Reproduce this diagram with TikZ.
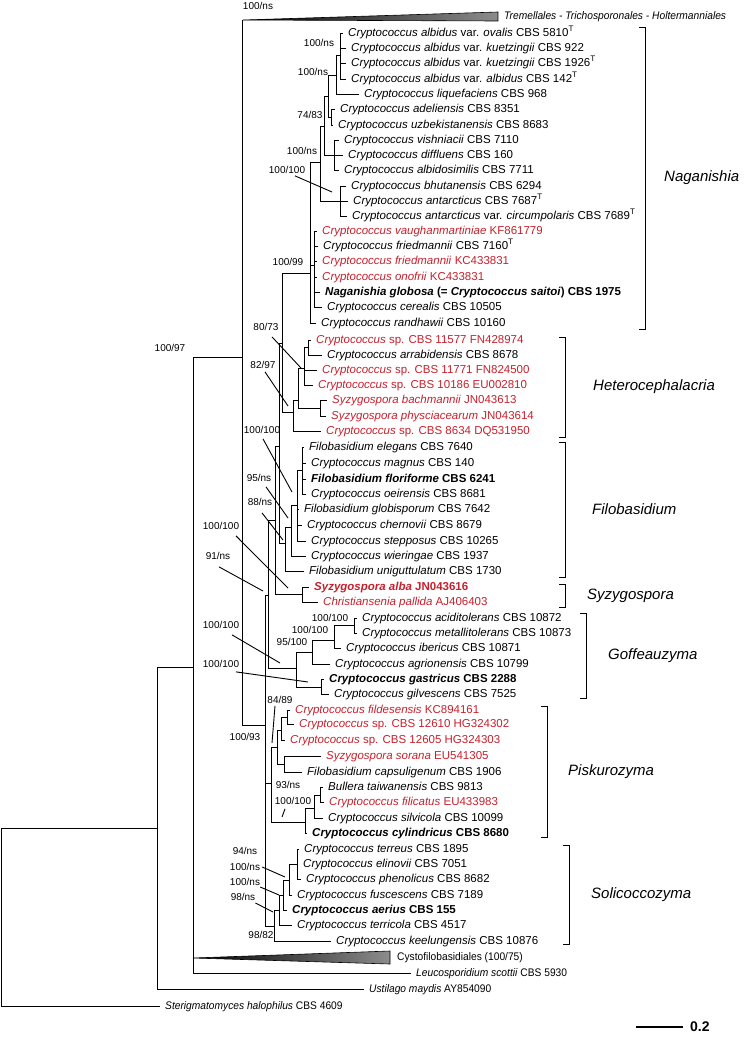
\documentclass[tikz,border=0pt]{standalone}
\usepackage{fontspec}
\setmainfont{Liberation Sans}
\newfontfamily\narrowfont[FakeStretch=0.93]{Liberation Sans}
\usetikzlibrary{positioning}
\definecolor{accred}{RGB}{198,32,44}
\newcommand{\crypto}{\textit{Cryptococcus}}
\newcommand{\typ}{\textsuperscript{T}}
\tikzset{
  leaf/.style={anchor=west,inner xsep=5pt,inner ysep=0pt,text height=8.5pt,text depth=2.5pt,font=\fontsize{11.5}{13}\selectfont},
  redleaf/.style={leaf,text=accred},
  outleaf/.style={leaf,font=\narrowfont\fontsize{11}{13}\selectfont},
  supp/.style={inner sep=1pt,font=\fontsize{10}{12}\selectfont},
  clade/.style={anchor=west,inner sep=2pt,font=\fontsize{15}{18}\selectfont\itshape},
  branch/.style={line width=1pt},
  ptr/.style={line width=0.9pt},
  collapsed/.style={left color=black,right color=black!45,draw=black,line width=0.6pt}
}

\begin{document}
\begin{tikzpicture}[x=1pt,y=-1pt]
\useasboundingbox (0,0) rectangle (744,1039);

% Naganishia
\node[leaf] (ovalis) at (343,33) {\crypto\ \textit{albidus} var. \textit{ovalis} CBS 5810\typ};
\node[leaf] (kuetA) at (346,48) {\crypto\ \textit{albidus} var. \textit{kuetzingii} CBS 922};
\node[leaf] (kuetB) at (346,63) {\crypto\ \textit{albidus} var. \textit{kuetzingii} CBS 1926\typ};
\node[leaf] (albidus) at (346,79) {\crypto\ \textit{albidus} var. \textit{albidus} CBS 142\typ};
\node[leaf] (liquef) at (359,94) {\crypto\ \textit{liquefaciens} CBS 968};
\node[leaf] (adeli) at (335,109) {\crypto\ \textit{adeliensis} CBS 8351};
\node[leaf] (uzbek) at (333,125) {\crypto\ \textit{uzbekistanensis} CBS 8683};
\node[leaf] (vishn) at (339,140) {\crypto\ \textit{vishniacii} CBS 7110};
\node[leaf] (difflu) at (343,155) {\crypto\ \textit{diffluens} CBS 160};
\node[leaf] (albidos) at (339,170) {\crypto\ \textit{albidosimilis} CBS 7711};
\node[leaf] (bhutan) at (346,186) {\crypto\ \textit{bhutanensis} CBS 6294};
\node[leaf] (antarc) at (348,201) {\crypto\ \textit{antarcticus} CBS 7687\typ};
\node[leaf] (circum) at (347,216) {\crypto\ \textit{antarcticus} var. \textit{circumpolaris} CBS 7689\typ};
\node[redleaf] (vaughan) at (317,231) {\crypto\ \textit{vaughanmartiniae} KF861779};
\node[leaf] (friedA) at (318,246) {\crypto\ \textit{friedmannii} CBS 7160\typ};
\node[redleaf] (friedB) at (317,261) {\crypto\ \textit{friedmannii} KC433831};
\node[redleaf] (onofrii) at (317,277) {\crypto\ \textit{onofrii} KC433831};
\node[leaf] (globosa) at (320,292) {\textbf{\textit{Naganishia globosa} (= \textit{Cryptococcus saitoi}) CBS 1975}};
\node[leaf] (cereal) at (322,307) {\crypto\ \textit{cerealis} CBS 10505};
\node[leaf] (randh) at (316,323) {\crypto\ \textit{randhawii} CBS 10160};
% Heterocephalacria
\node[redleaf] (spA) at (311,340) {\crypto\ sp. CBS 11577 FN428974};
\node[leaf] (arrab) at (322,355) {\crypto\ \textit{arrabidensis} CBS 8678};
\node[redleaf] (spB) at (317,370) {\crypto\ sp. CBS 11771 FN824500};
\node[redleaf] (spC) at (313,385) {\crypto\ sp. CBS 10186 EU002810};
\node[redleaf] (bachm) at (327,400) {\textit{Syzygospora bachmannii} JN043613};
\node[redleaf] (physc) at (326,416) {\textit{Syzygospora physciacearum} JN043614};
\node[redleaf] (spD) at (321,431) {\crypto\ sp. CBS 8634 DQ531950};
% Filobasidium, Syzygospora
\node[leaf] (elegans) at (304,447) {\textit{Filobasidium elegans} CBS 7640};
\node[leaf] (magnus) at (306,463) {\crypto\ \textit{magnus} CBS 140};
\node[leaf] (florif) at (306,479) {\textbf{\textit{Filobasidium floriforme} CBS 6241}};
\node[leaf] (oeir) at (306,494) {\crypto\ \textit{oeirensis} CBS 8681};
\node[leaf] (globis) at (299,509) {\textit{Filobasidium globisporum} CBS 7642};
\node[leaf] (chern) at (302,525) {\crypto\ \textit{chernovii} CBS 8679};
\node[leaf] (stepp) at (306,541) {\crypto\ \textit{stepposus} CBS 10265};
\node[leaf] (wier) at (306,556) {\crypto\ \textit{wieringae} CBS 1937};
\node[leaf] (unig) at (304,571) {\textit{Filobasidium uniguttulatum} CBS 1730};
\node[redleaf] (alba) at (309,587) {\textbf{\textit{Syzygospora alba} JN043616}};
\node[redleaf] (christ) at (318,602) {\textit{Christiansenia pallida} AJ406403};
% Goffeauzyma
\node[leaf] (acid) at (357,618) {\crypto\ \textit{aciditolerans} CBS 10872};
\node[leaf] (metal) at (357,633) {\crypto\ \textit{metallitolerans} CBS 10873};
\node[leaf] (iberic) at (341,648) {\crypto\ \textit{ibericus} CBS 10871};
\node[leaf] (agrion) at (330,664) {\crypto\ \textit{agrionensis} CBS 10799};
\node[leaf] (gastr) at (324,679) {\textbf{\textit{Cryptococcus gastricus} CBS 2288}};
\node[leaf] (gilv) at (329,694) {\crypto\ \textit{gilvescens} CBS 7525};
% Piskurozyma
\node[redleaf] (fildes) at (290,710) {\crypto\ \textit{fildesensis} KC894161};
\node[redleaf] (spE) at (294,724) {\crypto\ sp. CBS 12610 HG324302};
\node[redleaf] (spF) at (285,740) {\crypto\ sp. CBS 12605 HG324303};
\node[redleaf] (sorana) at (321,756) {\textit{Syzygospora sorana} EU541305};
\node[leaf] (capsul) at (302,772) {\textit{Filobasidium capsuligenum} CBS 1906};
\node[leaf] (bullera) at (323,787) {\textit{Bullera taiwanensis} CBS 9813};
\node[redleaf] (filic) at (324,802) {\crypto\ \textit{filicatus} EU433983};
\node[leaf] (silvic) at (323,818) {\crypto\ \textit{silvicola} CBS 10099};
\node[leaf] (cylind) at (307,833) {\textbf{\textit{Cryptococcus cylindricus} CBS 8680}};
% Solicoccozyma
\node[leaf] (terreus) at (299,849) {\crypto\ \textit{terreus} CBS 1895};
\node[leaf] (elinov) at (298,864) {\crypto\ \textit{elinovii} CBS 7051};
\node[leaf] (phenol) at (301,879) {\crypto\ \textit{phenolicus} CBS 8682};
\node[leaf] (fusc) at (292,895) {\crypto\ \textit{fuscescens} CBS 7189};
\node[leaf] (aerius) at (287,910) {\textbf{\textit{Cryptococcus aerius} CBS 155}};
\node[leaf] (terric) at (292,925) {\crypto\ \textit{terricola} CBS 4517};
\node[leaf] (keel) at (331,941) {\crypto\ \textit{keelungensis} CBS 10876};
% outgroups
\node[outleaf] (tremel) at (499,16) {\textit{Tremellales - Trichosporonales - Holtermanniales}};
\node[outleaf] (cysto) at (392,957) {Cystofilobasidiales (100/75)};
\node[outleaf] (leuco) at (411,973) {\textit{Leucosporidium scottii} CBS 5930};
\node[outleaf] (ustil) at (364,989) {\textit{Ustilago maydis} AY854090};
\node[outleaf] (sterig) at (160,1006) {\textit{Sterigmatomyces halophilus} CBS 4609};

% internal nodes
\coordinate (nAlb) at (340,55);
\coordinate (nLiq) at (336,75);
\coordinate (nAdel) at (331,117);
\coordinate (nN3) at (328,96);
\coordinate (nVish) at (334,155);
\coordinate (nN4) at (324,126);
\coordinate (nAnt) at (340,201);
\coordinate (nN5) at (320,162);
\coordinate (nN7) at (314,265);
\coordinate (nNag) at (310,273);
\coordinate (nH1) at (308,347);
\coordinate (nH2) at (304,368);
\coordinate (nH4) at (320,408);
\coordinate (nH3) at (298,400);
\coordinate (nH5) at (293,412);
\coordinate (nNH) at (282,343);
\coordinate (nF1) at (302,470);
\coordinate (nF2) at (297,505);
\coordinate (nF3) at (291,527);
\coordinate (nF4) at (285,543);
\coordinate (nUP2) at (279,446);
\coordinate (nSyz) at (302,594);
\coordinate (nUP3) at (275,520);
\coordinate (nG4) at (354,625);
\coordinate (nG3) at (334,640);
\coordinate (nG2) at (312,652);
\coordinate (nG5) at (321,687);
\coordinate (nGof) at (296,668);
\coordinate (nUP4) at (268,595);
\coordinate (nP1) at (287,717);
\coordinate (nP2) at (281,730);
\coordinate (nP3) at (284,764);
\coordinate (nP4) at (277,747);
\coordinate (nPB1) at (320,795);
\coordinate (nPB2) at (314,808);
\coordinate (nPB3) at (305,822);
\coordinate (nPisk) at (271,783);
\coordinate (nSa) at (297,864);
\coordinate (nSb) at (289,880);
\coordinate (nSc) at (283,895);
\coordinate (nSd) at (279,910);
\coordinate (nSoli) at (274,926);
\coordinate (nFilo) at (265,725);
\coordinate (tremApex) at (243,20);
\coordinate (nTF) at (242,357);
\coordinate (cystApex) at (193,958);
\coordinate (nCF) at (193,667);
\coordinate (nU) at (157,828);
\coordinate (nRoot) at (1.5,828);

% collapsed clades
\shadedraw[collapsed] (tremApex) -- (498,12) -- (498,21) -- cycle;
\shadedraw[collapsed] (cystApex) -- (390,951) -- (390,964) -- cycle;

% branches
\draw[branch] (nAlb) |- (ovalis.west) (nAlb) |- (kuetA.west) (nAlb) |- (kuetB.west) (nAlb) |- (albidus.west);
\draw[branch] (nLiq) |- (nAlb) (nLiq) |- (liquef.west);
\draw[branch] (nAdel) |- (adeli.west) (nAdel) |- (uzbek.west);
\draw[branch] (nN3) |- (nLiq) (nN3) |- (nAdel);
\draw[branch] (nVish) |- (vishn.west) (nVish) |- (difflu.west) (nVish) |- (albidos.west);
\draw[branch] (nN4) |- (nN3) (nN4) |- (nVish);
\draw[branch] (nAnt) |- (bhutan.west) (nAnt) |- (antarc.west) (nAnt) |- (circum.west);
\draw[branch] (nN5) |- (nN4) (nN5) |- (nAnt);
\draw[branch] (nN7) |- (vaughan.west) (nN7) |- (friedA.west) (nN7) |- (friedB.west)
  (nN7) |- (onofrii.west) (nN7) |- (globosa.west) (nN7) |- (cereal.west);
\draw[branch] (nNag) |- (nN5) (nNag) |- (nN7) (nNag) |- (randh.west);
\draw[branch] (nH1) |- (spA.west) (nH1) |- (arrab.west);
\draw[branch] (nH2) |- (nH1) (nH2) |- (spB.west) (nH2) |- (spC.west);
\draw[branch] (nH4) |- (bachm.west) (nH4) |- (physc.west);
\draw[branch] (nH3) |- (nH2) (nH3) |- (nH4);
\draw[branch] (nH5) |- (nH3) (nH5) |- (spD.west);
\draw[branch] (nNH) |- (nNag) (nNH) |- (nH5);
\draw[branch] (nF1) |- (elegans.west) (nF1) |- (magnus.west) (nF1) |- (florif.west) (nF1) |- (oeir.west);
\draw[branch] (nF2) |- (nF1) (nF2) |- (globis.west) (nF2) |- (chern.west) (nF2) |- (stepp.west);
\draw[branch] (nF3) |- (nF2) (nF3) |- (wier.west);
\draw[branch] (nF4) |- (nF3) (nF4) |- (unig.west);
\draw[branch] (nUP2) |- (nNH) (nUP2) |- (nF4);
\draw[branch] (nSyz) |- (alba.west) (nSyz) |- (christ.west);
\draw[branch] (nUP3) |- (nUP2) (nUP3) |- (nSyz);
\draw[branch] (nG4) |- (acid.west) (nG4) |- (metal.west);
\draw[branch] (nG3) |- (nG4) (nG3) |- (iberic.west);
\draw[branch] (nG2) |- (nG3) (nG2) |- (agrion.west);
\draw[branch] (nG5) |- (gastr.west) (nG5) |- (gilv.west);
\draw[branch] (nGof) |- (nG2) (nGof) |- (nG5);
\draw[branch] (nUP4) |- (nUP3) (nUP4) |- (nGof);
\draw[branch] (nP1) |- (fildes.west) (nP1) |- (spE.west);
\draw[branch] (nP2) |- (nP1) (nP2) |- (spF.west);
\draw[branch] (nP3) |- (sorana.west) (nP3) |- (capsul.west);
\draw[branch] (nP4) |- (nP2) (nP4) |- (nP3);
\draw[branch] (nPB1) |- (bullera.west) (nPB1) |- (filic.west);
\draw[branch] (nPB2) |- (nPB1) (nPB2) |- (silvic.west);
\draw[branch] (nPB3) |- (nPB2) (nPB3) |- (cylind.west);
\draw[branch] (nPisk) |- (nP4) (nPisk) |- (nPB3);
\draw[branch] (nSa) |- (terreus.west) (nSa) |- (elinov.west) (nSa) |- (phenol.west);
\draw[branch] (nSb) |- (nSa) (nSb) |- (fusc.west);
\draw[branch] (nSc) |- (nSb) (nSc) |- (aerius.west);
\draw[branch] (nSd) |- (nSc) (nSd) |- (terric.west);
\draw[branch] (nSoli) |- (nSd) (nSoli) |- (keel.west);
\draw[branch] (nFilo) |- (nUP4) (nFilo) |- (nPisk) (nFilo) |- (nSoli);
\draw[branch] (nTF) |- (tremApex) (nTF) |- (nFilo);
\draw[branch] (nCF) |- (nTF) (nCF) |- (cystApex) (nCF) |- (leuco.west);
\draw[branch] (nU) |- (nCF) (nU) |- (ustil.west);
\draw[branch] (nRoot) |- (nU) (nRoot) |- (sterig.west);

% support values
\node[supp] (sTrem) at (258,6) {100/ns};
\node[supp] (sAlb) at (319,43) {100/ns};
\node[supp] (sLiq) at (313,72) {100/ns};
\node[supp] (sN4) at (310,115) {74/83};
\node[supp] (sN5) at (302,151) {100/ns};
\node[supp] (sAnt) at (287,170) {100/100};
\node[supp] (sNag) at (288,262) {100/99};
\node[supp] (sH2) at (266,327) {80/73};
\node[supp] (sTF) at (170,348) {100/97};
\node[supp] (sH5) at (263,365) {82/97};
\node[supp] (sF2) at (262,430) {100/100};
\node[supp] (sF3) at (259,478) {95/ns};
\node[supp] (sF4) at (260,502) {88/ns};
\node[supp] (sSyz) at (221,526) {100/100};
\node[supp] (sUP4) at (218,556) {91/ns};
\node[supp] (sG4) at (330,618) {100/100};
\node[supp] (sGof) at (221,625) {100/100};
\node[supp] (sG3) at (310,630) {100/100};
\node[supp] (sG2) at (292,642) {95/100};
\node[supp] (sG5) at (221,664) {100/100};
\node[supp] (sPisk) at (280,700) {84/89};
\node[supp] (sFilo) at (245,737) {100/93};
\node[supp] (sPB2) at (288,785) {93/ns};
\node[supp] (sPB3) at (293,801) {100/100};
\node[supp] (sSa) at (245,851) {94/ns};
\node[supp] (sSb) at (245,867) {100/ns};
\node[supp] (sSc) at (245,882) {100/ns};
\node[supp] (sSd) at (243,897) {98/ns};
\node[supp] (sSoli) at (261,935) {98/82};

\coordinate (pAnt) at (332,192);
\coordinate (pH2) at (301,368);
\coordinate (pH5) at (288,406);
\coordinate (pF2) at (292,492);
\coordinate (pF3) at (288,518);
\coordinate (pF4) at (283,540);
\coordinate (pSyz) at (288,588);
\coordinate (pUP4) at (263,591);
\coordinate (pGof) at (280,663);
\coordinate (pG5) at (308,682);
\coordinate (pPisk) at (272,743);
\coordinate (pPB3) at (282,817);
\coordinate (pSb) at (285,877);
\coordinate (pSc) at (279,895);
\coordinate (pSd) at (273,912);
\draw[ptr] ([shift={(8,1)}]sAnt.south) -- (pAnt);
\draw[ptr] ([shift={(6,5)}]sH2.south) -- (pH2);
\draw[ptr] ([shift={(2,2)}]sH5.south) -- (pH5);
\draw[ptr] ([shift={(1,4)}]sF2.south) -- (pF2);
\draw[ptr] ([shift={(7,4)}]sF3.south) -- (pF3);
\draw[ptr] ([shift={(2,6)}]sF4.south) -- (pF4);
\draw[ptr] ([shift={(15,5)}]sSyz.south) -- (pSyz);
\draw[ptr] ([shift={(1,6)}]sUP4.south) -- (pUP4);
\draw[ptr] ([shift={(11,5)}]sGof.south) -- (pGof);
\draw[ptr] ([shift={(15,3)}]sG5.south) -- (pG5);
\draw[ptr] ([shift={(-5,1)}]sPisk.south) -- (pPisk);
\draw[ptr] ([shift={(-8,3)}]sPB3.south) -- (pPB3);
\draw[ptr] ([shift={(1,0)}]sSb.east) -- (pSb);
\draw[ptr] ([shift={(-1,5)}]sSc.east) -- (pSc);
\draw[ptr] ([shift={(-1,6)}]sSd.east) -- (pSd);

% genus brackets
\foreach \bx/\ta/\tb/\nm/\txt/\dx in {645/27/329/Nag/Naganishia/17,
    565/337/437/Het/Heterocephalacria/26, 565/442/577/Fil/Filobasidium/25,
    565/584/607/Syz/Syzygospora/20, 586/613/698/Gof/Goffeauzyma/20,
    547/706/837/Pis/Piskurozyma/19, 569/845/944/Sol/Solicoccozyma/20}
{
  \draw[branch] (\bx-6,\ta) -- (\bx,\ta) -- (\bx,\tb) -- (\bx-6,\tb);
  \node[clade] (c\nm) at ({\bx+\dx},{(\ta+\tb)/2}) {\txt};
}

% scale bar
\coordinate (barR) at (683,1027);
\node[right=7pt of barR,inner sep=0pt,font=\fontsize{14}{16}\selectfont\bfseries] (barlab) {0.2};
\draw[line width=2.5pt] (barR) -- ++(-47,0);
\end{tikzpicture}
\end{document}
